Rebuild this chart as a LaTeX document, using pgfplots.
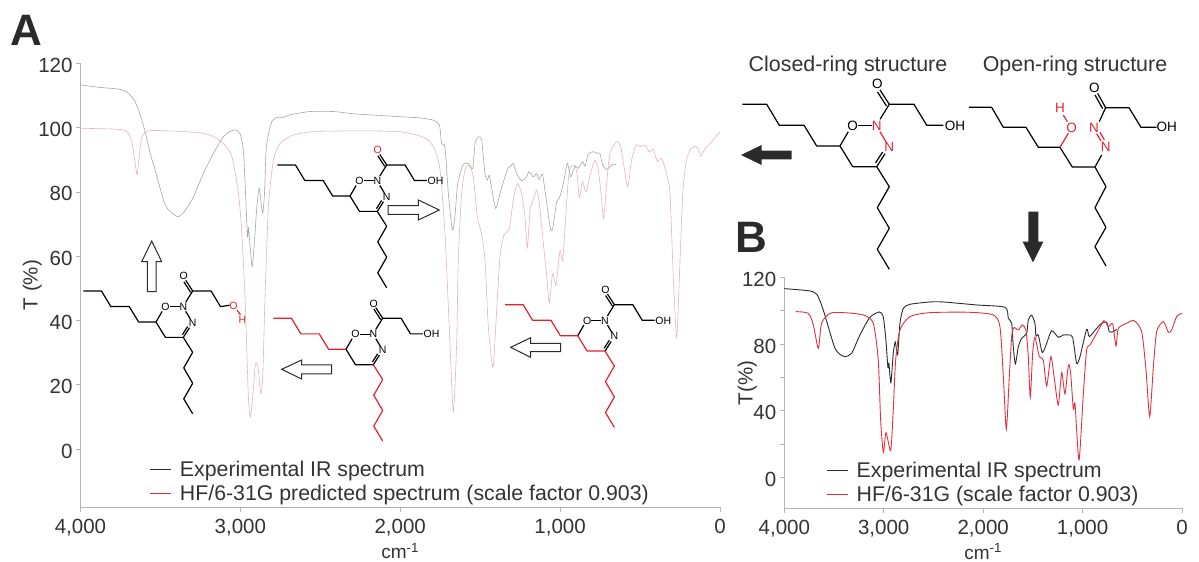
\documentclass[border=0pt]{standalone}
\usepackage{fontspec}
\setmainfont{Liberation Sans}
\usepackage{pgfplots}
\pgfplotsset{compat=1.18}

\definecolor{axisgray}{HTML}{B4B4B4}
\definecolor{txt}{HTML}{333333}
\definecolor{expfaint}{HTML}{A6A6A6}
\definecolor{redfaint}{HTML}{E6B4BA}
\definecolor{expdark}{HTML}{2B2B2B}
\definecolor{redline}{HTML}{E0303F}
\definecolor{molred}{HTML}{E5202E}

\newcommand{\tickfont}{\fontsize{20.5}{22}\selectfont}

\pgfplotsset{irpanel/.style={
    scale only axis,
    anchor=south west,
    axis lines=left,
    axis line style={-,draw=axisgray,line width=0.8pt},
    x dir=reverse,
    xmin=0, xmax=4000,
    xtick={0,1000,2000,3000,4000},
    tick align=outside,
    major tick length=4.5pt,
    minor tick length=4.5pt,
    tick style={draw=axisgray,line width=0.8pt},
    ticklabel style={font=\tickfont,text=txt},
    /pgf/number format/assume math mode=true,
    /pgf/number format/1000 sep={,},
    xticklabel style={yshift=-4pt},
    yticklabel style={yshift=-2pt},
    legend cell align=left,
    legend style={draw=none,fill=none,font=\fontsize{21.3}{23}\selectfont,text=txt,
      row sep=3pt,inner sep=0pt,anchor=north west},
    legend image code/.code={\draw[line width=1.3pt,##1] (0pt,0pt) -- (21pt,0pt); \path (28pt,0pt);},
}}

% closed-ring molecule, coordinates are relative to the ring carbon with the tail
\newcommand{\closedring}[5]{%
\begin{scope}[shift={(#1,#2)},scale=#3,line width=1.2pt,line join=round,
    every node/.style={inner sep=0pt,font=\fontsize{#4}{#4}\selectfont}]
  \draw[mtail] (-97.7,-41.7) -- (-73.3,-41.7) -- (-60.7,-20.7) -- (-36,-20.7) -- (-23.3,0) -- (0,0);
  \draw[black] (0,0) -- (8.3,-14.3);
  \node[black] at (12.7,-20.3) {O};
  \draw[black] (18.3,-20.3) -- (31.7,-20.3);
  \node[mn] at (36.7,-20.3) {N};
  \draw[mn] (40,-14.3) -- (46,-4.3);
  \node[mn] at (49.3,0.7) {N};
  \draw[black] (45,7.7) -- (36.7,20.7) (42.5,6.1) -- (35.5,17);
  \draw[mring] (36.7,20.7) -- (12.7,20.7) -- (0,0);
  \draw[black] (40,-26.7) -- (49.3,-41.7) -- (40,-56) (46.5,-40) -- (37.5,-54);
  \node[mco] at (37.3,-61.7) {O};
  \draw[mchain] (36.7,20.7) -- (49.3,40.7) -- (37.3,61.7) -- (49.3,82.3) -- (37.3,103.3) -- (49.3,123.3);
  #5
\end{scope}}
\newcommand{\ohplain}{%
  \draw[black] (49.3,-41.7) -- (74,-41.7) -- (86.7,-20.7) -- (103.3,-20.7);
  \node[black] at (115,-20.3) {OH};}
\newcommand{\ohred}{%
  \draw[black] (49.3,-41.7) -- (74,-41.7) -- (86.7,-20.7) -- (99,-22.5);
  \node[molred] at (104,-22) {O};
  \draw[molred] (109,-16) -- (113.5,-9.5);
  \node[molred] at (116,-2.5) {H};}

\begin{document}
\begin{tikzpicture}
\path[use as bounding box] (0,0) rectangle (1199pt,562pt);

% panel A
\begin{axis}[
    irpanel,
    at={(80.5pt,55pt)},
    width=639.5pt, height=443.7pt,
    ymin=-18, ymax=120,
    ytick={0,20,40,60,80,100,120},
    legend style={at={(axis cs:3572,-3.1)}},
    xlabel={cm\textsuperscript{-1}},
    ylabel={T (\%)},
    every axis x label/.style={at={(axis description cs:0.5,0)},anchor=north,yshift=-33pt,font=\fontsize{19}{19}\selectfont,text=txt},
    every axis y label/.style={at={(axis description cs:0,0.5)},rotate=90,anchor=south,yshift=35pt,font=\fontsize{20.5}{22}\selectfont,text=txt},
]
\addlegendimage{expdark}
\addlegendentry{Experimental IR spectrum}
\addlegendimage{redline}
\addlegendentry{HF/6-31G predicted spectrum (scale factor 0.903)}

\addplot[forget plot,color=redfaint,line width=0.6pt,smooth,tension=0.4] coordinates {
(4000,99.8)(3773,99.5)(3710,98.8)(3679,95.6)(3658,88.9)(3646,85.3)(3635,90)(3616,97.2)(3575,99)(3460,99)(3251,98.4)
(3168,97.2)(3106,95)(3053,91)(3012,79.6)(2992,68)(2971,47.4)(2950,16.2)(2937,10)(2923,16.2)(2908,25.6)(2898,26.9)
(2887,24.5)(2873,17.3)(2860,22.5)(2846,47.4)(2831,68)(2822,77.5)(2793,90)(2751,95.1)(2668,97.7)(2522,98.8)(2209,99)
(2002,98.7)(1897,97.7)(1824,96.1)(1783,93)(1751,86.8)(1720,67)(1689,32.9)(1668,11.6)(1647,32.9)(1637,58.8)(1616,79.5)
(1595,86.8)(1570,88.3)(1543,84.7)(1518,72.3)(1491,67)(1470,58.8)(1449,38)(1420,25.5)(1397,43)(1376,59.8)(1351,66.6)
(1318,68.6)(1293,77.4)(1268,82.6)(1241,79.5)(1220,72.3)(1205,62.7)(1188,74.3)(1172,76.9)(1147,80.6)(1130,76.4)(1105,64)
(1085,54.6)(1068,45.5)(1047,54.6)(1026,51)(1001,61.7)(984,58.6)(969,69)(949,83.7)(934,87.8)(907,88.3)(892,84.7)(880,78.2)
(861,83.2)(838,80)(813,85.2)(782,89.9)(761,86.8)(744,79.5)(728,71.7)(709,82.6)(688,92)(646,95.6)(621,94)(600,87.8)
(577,81.6)(553,89.9)(525,94.6)(496,94)(469,94.6)(442,92.5)(417,93.2)(392,89.4)(365,90.4)(334,85.7)(313,79.5)(292,53.6)
(271,34.7)(254,53.6)(233,79.5)(213,88.9)(188,93)(156,94.2)(135,93.2)(119,91.1)(94,93.5)(63,95)(0,98.7)
};
\addplot[forget plot,color=expfaint,line width=0.6pt,smooth,tension=0.4] coordinates {
(4000,113.3)(3877,112.5)(3752,111.9)(3700,110.7)(3658,108)(3627,104)(3596,98.8)(3564,92)(3533,86.8)(3481,77.5)(3450,74.4)
(3391,72.3)(3345,74.2)(3293,78.5)(3231,85.8)(3168,92)(3106,97.2)(3064,98.8)(3033,99.3)(3001,98)(2980,92)(2964,75.4)
(2955,66)(2949,68.7)(2939,63)(2926,56.8)(2914,63)(2897,75.4)(2882,81.1)(2870,76.5)(2860,73.4)(2849,79.6)(2839,93)
(2824,98.2)(2803,101.9)(2772,103.2)(2730,103.2)(2689,104)(2563,105)(2417,105)(2292,104.3)(2002,103.4)(1876,103)(1793,102.3)
(1755,100.8)(1741,95)(1720,93.8)(1699,79.5)(1674,68.1)(1658,72.3)(1643,81.6)(1626,85.7)(1605,88.6)(1574,88.9)(1547,87.3)
(1532,95)(1512,97.1)(1491,96.1)(1470,85.7)(1455,83.7)(1443,85.2)(1428,81.1)(1403,74.9)(1376,79.5)(1345,84.7)(1324,87.6)
(1309,88)(1293,88.9)(1272,85.7)(1241,83.5)(1209,84.7)(1195,86.3)(1168,84.7)(1147,85.7)(1132,83.9)(1111,85.5)(1095,80.6)
(1063,69.2)(1047,68.4)(1022,76.9)(1005,78)(980,82.6)(955,88.9)(934,84.7)(907,88)(886,87.3)(859,89.4)(844,88)(824,91.8)
(792,92.5)(771,92)(751,92)(734,88.3)(709,87)(688,87.8)(667,88.6)(650,88.5)
};
\end{axis}

% panel B
\begin{axis}[
    irpanel,
    at={(784.3pt,53.7pt)},
    width=397.7pt, height=231pt,
    ymin=-18.6, ymax=120,
    ytick={0,40,80,120},
    minor ytick={20,60,100},
    legend style={at={(axis cs:3584,10.4)}},
    xlabel={cm\textsuperscript{-1}},
    ylabel={T(\%)},
    every axis x label/.style={at={(axis description cs:0.5,0)},anchor=north,yshift=-32pt,font=\fontsize{19}{19}\selectfont,text=txt},
    every axis y label/.style={at={(axis description cs:0,0.5)},rotate=90,anchor=south,xshift=10pt,yshift=24pt,font=\fontsize{20.5}{22}\selectfont,text=txt},
]
\addlegendimage{expdark}
\addlegendentry{Experimental IR spectrum}
\addlegendimage{redline}
\addlegendentry{HF/6-31G (scale factor 0.903)}

\addplot[forget plot,color=expdark,line width=0.9pt,smooth,tension=0.4] coordinates {
(4000,113.2)(3742,111.8)(3668,109.4)(3608,100.4)(3558,90.4)(3491,77.4)(3440,73.8)(3390,72.4)(3323,74.4)(3239,85.4)(3139,96)
(3045,99.2)(3005,96.4)(2978,82.4)(2958,66)(2948,68.4)(2928,56.8)(2904,74.4)(2884,81.2)(2860,73.4)(2837,92.4)(2803,101.4)
(2736,103.8)(2535,105.2)(2400,105.2)(2065,103.4)(1780,102)(1747,95.4)(1713,92.4)(1697,78.4)(1676,68)(1646,78.4)(1613,83.4)
(1562,86.4)(1546,94.4)(1512,97.2)(1479,92.4)(1469,84.8)(1445,85.4)(1405,74.8)(1361,80.4)(1311,88)(1244,84)(1194,85.4)
(1143,85.4)(1100,84)(1060,68.4)(1026,72.4)(959,88.8)(932,84.4)(858,89.4)(808,92.4)(758,93)(731,87.4)(691,87.4)(657,88.8)
};
\addplot[forget plot,color=redline,line width=0.9pt,smooth,tension=0.4] coordinates {
(3883,99.4)(3759,98.4)(3708,91.4)(3658,77.4)(3625,92.4)(3541,98.4)(3407,98.8)(3205,97.4)(3105,92.4)(3055,70.4)(3031,34.4)
(3004,14.8)(2977,26.8)(2930,16)(2904,40.4)(2880,70.4)(2837,88.4)(2736,96.4)(2535,98.8)(2133,99)(1898,97.4)(1831,90.4)
(1797,60.4)(1767,28.8)(1737,60.4)(1713,84.4)(1690,89.8)(1646,88.4)(1606,91.4)(1569,88)(1546,72.4)(1526,48)(1502,74.4)
(1479,84)(1435,72.4)(1395,70.4)(1361,54.8)(1318,72.4)(1278,56.4)(1244,43.4)(1210,62.8)(1177,50)(1143,67.4)(1120,62.4)
(1093,40.8)(1076,44)(1036,10.4)(992,50.4)(959,76.4)(925,79.4)(858,86.4)(785,94)(741,90.4)(697,92)(664,78.8)(640,89.4)
(557,92.4)(483,94)(406,87.4)(362,64.4)(325,36.4)(288,66.4)(255,87.4)(188,93.4)(137,87)(104,88.4)(54,96.4)(0,98.4)
};
\end{axis}

% everything else is placed in image pixels, y downwards from the top left
\begin{scope}[shift={(0,562pt)},x=1pt,y=-1pt]
\node[anchor=base west,inner sep=0pt,text=expdark,font=\fontsize{44}{44}\selectfont\bfseries] at (10,46) {A};
\node[anchor=base west,inner sep=0pt,text=expdark,font=\fontsize{44}{44}\selectfont\bfseries] at (735,253) {B};
\node[anchor=base,inner sep=0pt,text=txt,font=\fontsize{21.4}{22}\selectfont] at (848,72) {Closed-ring structure};
\node[anchor=base,inner sep=0pt,text=txt,font=\fontsize{21.4}{22}\selectfont] at (1075,72) {Open-ring structure};

% panel A molecules
\colorlet{mtail}{black}\colorlet{mchain}{black}\colorlet{mring}{black}\colorlet{mco}{molred}\colorlet{mn}{black}
\closedring{350}{196}{0.744}{10.5}{\ohplain}
\colorlet{mco}{black}
\closedring{156}{322}{0.744}{10.5}{\ohred}
\colorlet{mtail}{molred}\colorlet{mchain}{molred}
\closedring{346}{349.3}{0.744}{10.5}{\ohplain}
\colorlet{mring}{molred}
\closedring{577.7}{335.7}{0.744}{10.5}{\ohplain}

% closed ring, top right
\colorlet{mtail}{black}\colorlet{mchain}{black}\colorlet{mring}{black}\colorlet{mco}{black}\colorlet{mn}{molred}
\closedring{840}{146}{1}{13.5}{\ohplain}

% open ring, top right
\begin{scope}[shift={(730,40)},x=0.3333pt,y=-0.3333pt,line width=1.2pt,line join=round,
    every node/.style={inner sep=0pt,font=\fontsize{13.5}{13.5}\selectfont}]
  \draw (717,202) -- (785,202) -- (820,262) -- (888,262) -- (925,322) -- (990,322) -- (1027,381) -- (1095,381) -- (1115,345);
  \draw[molred] (990,322) -- (1015,280) (1012,245) -- (1000,225);
  \node[molred] at (1025,263) {O};
  \node[molred] at (990,205) {H};
  \node[molred] at (1127,322) {N};
  \node[molred] at (1092,263) {N};
  \draw[molred] (1100,281) -- (1113,303) (1110,277) -- (1123,299);
  \draw (1108,245) -- (1127,203) -- (1103,160) (1118,206) -- (1095,165);
  \node at (1093,145) {O};
  \draw (1127,203) -- (1197,203) -- (1233,262) -- (1280,262);
  \node at (1310,262) {OH};
  \draw (1095,381) -- (1128,440) -- (1095,503) -- (1128,562) -- (1095,620) -- (1128,678);
\end{scope}

% block arrows
\begin{scope}[draw=expdark,line width=1pt,fill=white,line join=miter]
  \draw (151.7,241) -- (161.7,261.7) -- (156,261.7) -- (156,291.7) -- (147.3,291.7) -- (147.3,261.7) -- (141.7,261.7) -- cycle;
  \draw (439.3,210) -- (418.3,200) -- (418.3,205.7) -- (388,205.7) -- (388,214.3) -- (418.3,214.3) -- (418.3,220) -- cycle;
  \draw (281.7,369.3) -- (301.7,360) -- (301.7,365) -- (331.7,365) -- (331.7,374) -- (301.7,374) -- (301.7,379) -- cycle;
  \draw (510.7,347.3) -- (530.7,337.7) -- (530.7,343.3) -- (560.7,343.3) -- (560.7,351.7) -- (530.7,351.7) -- (530.7,357.3) -- cycle;
\end{scope}
\fill[expdark] (741,155) -- (761.7,145) -- (761.7,150.7) -- (791.7,150.7) -- (791.7,159.3) -- (761.7,159.3) -- (761.7,165) -- cycle;
\fill[expdark] (1033,262.3) -- (1022.7,241.7) -- (1028.3,241.7) -- (1028.3,211.7) -- (1038.3,211.7) -- (1038.3,241.7) -- (1043.3,241.7) -- cycle;
\end{scope}
\end{tikzpicture}
\end{document}
